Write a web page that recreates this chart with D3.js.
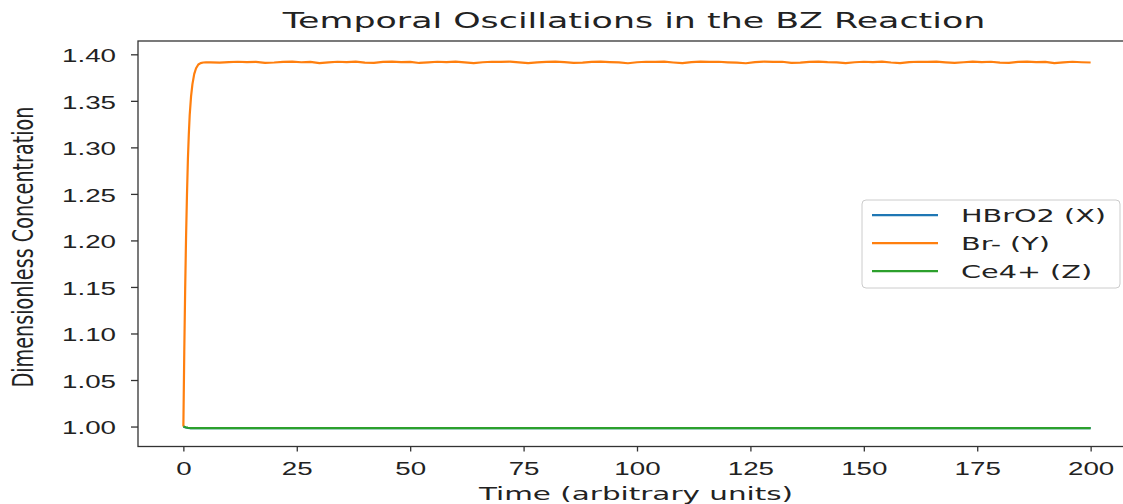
<!DOCTYPE html>
<html>
<head>
<meta charset="utf-8">
<script src="https://cdn.jsdelivr.net/npm/d3@7"></script>
<style>
  body { margin: 0; background: #fff; }
  svg { display: block; font-family: "DejaVu Sans", sans-serif; }
</style>
</head>
<body>
<svg id="chart" width="1123" height="504"></svg>
<script>
// Br- (Y): fast rise then small oscillations on a plateau
const timeY = [0, 0.2, 0.4, 0.6, 0.8, 1.0, 1.2, 1.4, 1.7, 2.0, 2.4, 2.8, 3.3, 3.8, 4.4, 5.0,
  6, 8, 10, 12, 14, 16, 18, 20, 22, 24, 26, 28, 30, 32, 34, 36, 38, 40, 42, 44, 46, 48, 50,
  52, 54, 56, 58, 60, 62, 64, 66, 68, 70, 72, 74, 76, 78, 80, 82, 84, 86, 88, 90, 92, 94, 96,
  98, 100, 102, 104, 106, 108, 110, 112, 114, 116, 118, 120, 122, 124, 126, 128, 130, 132,
  134, 136, 138, 140, 142, 144, 146, 148, 150, 152, 154, 156, 158, 160, 162, 164, 166, 168,
  170, 172, 174, 176, 178, 180, 182, 184, 186, 188, 190, 192, 194, 196, 198, 200];
const concY = [1.000, 1.080, 1.148, 1.205, 1.250, 1.287, 1.314, 1.335, 1.355, 1.368, 1.379, 1.385, 1.389, 1.3905, 1.3912, 1.3915,
  1.3914, 1.3910, 1.3917, 1.3920, 1.3916, 1.3919, 1.3909, 1.3912, 1.3919, 1.3921, 1.3915, 1.3918, 1.3906, 1.3913, 1.3920, 1.3917, 1.3921, 1.3911, 1.3908, 1.3918, 1.3922, 1.3916, 1.3919,
  1.3907, 1.3914, 1.3920, 1.3917, 1.3921, 1.3913, 1.3906, 1.3915, 1.3920, 1.3918, 1.3921, 1.3914, 1.3905, 1.3914, 1.3919, 1.3922, 1.3916, 1.3908, 1.3910, 1.3919, 1.3921, 1.3917, 1.3913,
  1.3904, 1.3915, 1.3920, 1.3918, 1.3921, 1.3912, 1.3905, 1.3916, 1.3921, 1.3918, 1.3920, 1.3914, 1.3910, 1.3904, 1.3916, 1.3921, 1.3918, 1.3920,
  1.3909, 1.3911, 1.3919, 1.3922, 1.3916, 1.3913, 1.3906, 1.3915, 1.3920, 1.3917, 1.3921, 1.3912, 1.3906, 1.3916, 1.3920, 1.3918, 1.3921, 1.3913,
  1.3907, 1.3915, 1.3921, 1.3917, 1.3920, 1.3910, 1.3908, 1.3918, 1.3921, 1.3916, 1.3919, 1.3906, 1.3914, 1.3920, 1.3915, 1.3912];

// HBrO2 (X) and Ce4+ (Z): tiny drop then flat
const timeXZ = [0, 0.5, 1, 1.5, 2, 3, 5, 10, 50, 100, 150, 200];
const concX = [1.000, 0.9990, 0.9985, 0.9983, 0.9982, 0.9982, 0.9982, 0.9982, 0.9982, 0.9982, 0.9982, 0.9982];
const concZ = [1.000, 0.9992, 0.9987, 0.9984, 0.9983, 0.9982, 0.9982, 0.9982, 0.9982, 0.9982, 0.9982, 0.9982];

const xTicks = [0, 25, 50, 75, 100, 125, 150, 175, 200];
const yTicks = [1.00, 1.05, 1.10, 1.15, 1.20, 1.25, 1.30, 1.35, 1.40];

const seriesNames = ['HBrO2 (X)', 'Br- (Y)', 'Ce4+ (Z)'];
const colors = ['#1f77b4', '#ff7f0e', '#2ca02c'];

const svg = d3.select('#chart');
const stretch = 1.5; // glyphs in the reference are wider than tall

const plotLeft = 138, plotRight = 1136, plotTop = 41, plotBottom = 446.5;

const x = d3.scaleLinear().domain([-10, 210]).range([plotLeft, plotRight]);
const y = d3.scaleLinear().domain([0.97855, 1.41431]).range([plotBottom, plotTop]);

// X axis
const xAxis = svg.append('g')
  .attr('transform', 'translate(0,' + plotBottom + ')')
  .call(d3.axisBottom(x).tickValues(xTicks).tickSize(5).tickSizeOuter(0).tickPadding(10.4));
xAxis.select('.domain').remove();
xAxis.selectAll('line').attr('stroke', '#333').attr('stroke-width', 1.3);
xAxis.selectAll('text')
  .attr('font-size', 18.5)
  .attr('fill', '#222')
  .attr('transform', 'scale(' + stretch + ',1)');

// Y axis
const yAxis = svg.append('g')
  .attr('transform', 'translate(' + plotLeft + ',0)')
  .call(d3.axisLeft(y).tickValues(yTicks).tickSize(7).tickSizeOuter(0).tickFormat(d3.format('.2f')));
yAxis.select('.domain').remove();
yAxis.selectAll('line').attr('stroke', '#333').attr('stroke-width', 1.3);
yAxis.selectAll('text')
  .attr('font-size', 18.5)
  .attr('fill', '#222')
  .attr('transform', 'scale(' + stretch + ',1)')
  .attr('x', -22 / stretch)
  .attr('dy', '0.4em');

// Lines
const line = d3.line().x(d => x(d[0])).y(d => y(d[1]));
const dataX = timeXZ.map((t, i) => [t, concX[i]]);
const dataY = timeY.map((t, i) => [t, concY[i]]);
const dataZ = timeXZ.map((t, i) => [t, concZ[i]]);

[dataX, dataY, dataZ].forEach((d, i) => {
  svg.append('path')
    .datum(d)
    .attr('fill', 'none')
    .attr('stroke', colors[i])
    .attr('stroke-width', 2.2)
    .attr('stroke-linejoin', 'round')
    .attr('d', line);
});

// Frame
svg.append('rect')
  .attr('x', plotLeft).attr('y', plotTop)
  .attr('width', plotRight - plotLeft).attr('height', plotBottom - plotTop)
  .attr('fill', 'none')
  .attr('stroke', '#333')
  .attr('stroke-width', 1.3);

// Title
svg.append('text')
  .attr('transform', 'translate(634,28) scale(1.62,1)')
  .attr('text-anchor', 'middle')
  .attr('font-size', 21.5)
  .attr('fill', '#222')
  .text('Temporal Oscillations in the BZ Reaction');

// Axis labels
svg.append('text')
  .attr('transform', 'translate(636,500) scale(1.6,1)')
  .attr('text-anchor', 'middle')
  .attr('font-size', 18.4)
  .attr('fill', '#222')
  .text('Time (arbitrary units)');

svg.append('text')
  .attr('transform', 'translate(33,247) scale(1.5,1) rotate(-90)')
  .attr('text-anchor', 'middle')
  .attr('font-size', 19.2)
  .attr('fill', '#222')
  .text('Dimensionless Concentration');

// Legend
const legend = svg.append('g');
legend.append('rect')
  .attr('x', 862).attr('y', 200)
  .attr('width', 258).attr('height', 88)
  .attr('rx', 4)
  .attr('fill', '#fff')
  .attr('fill-opacity', 0.8)
  .attr('stroke', '#ccc');

seriesNames.forEach((name, i) => {
  const base = 221.7 + i * 28;
  legend.append('line')
    .attr('x1', 872).attr('x2', 938)
    .attr('y1', base - 6.5).attr('y2', base - 6.5)
    .attr('stroke', colors[i])
    .attr('stroke-width', 2.2);
  legend.append('text')
    .attr('transform', 'translate(961,' + base + ') scale(1.56,1)')
    .attr('font-size', 18.4)
    .attr('fill', '#222')
    .text(name);
});
</script>
</body>
</html>
